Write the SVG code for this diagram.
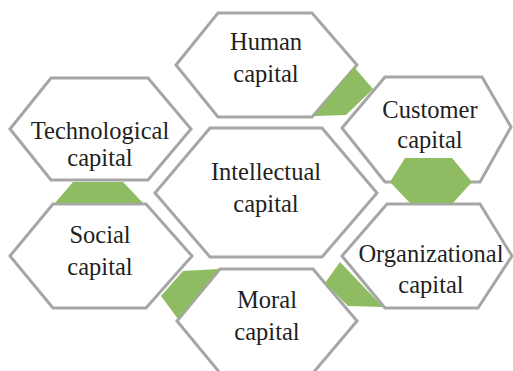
<svg xmlns="http://www.w3.org/2000/svg" width="513" height="371" viewBox="0 0 513 371">
<style>
.hex{fill:#ffffff;stroke:#a6a6a6;stroke-width:3;stroke-linejoin:miter}
.g{fill:#8fbb62;stroke:none}
text{font-family:"Liberation Serif","Times New Roman",serif;font-size:24.5px;fill:#231f20;text-anchor:middle}
</style>
<rect width="513" height="371" fill="#ffffff"/>
<g id="human"><polygon class="hex" points="176,65 218,13 312,13 357,65 312,117 218,117"/><text x="266" y="50">Human</text><text x="266" y="82">capital</text></g>
<g id="technological"><polygon class="hex" points="10,129 51,78 148,78 191,129 148,180 51,180"/><text x="100" y="139">Technological</text><text x="100" y="166">capital</text></g>
<g id="intellectual"><polygon class="hex" points="155,193 210,128 322,128 377,193 322,257 210,257"/><text x="266" y="180">Intellectual</text><text x="266" y="212">capital</text></g>
<g id="customer"><polygon class="hex" points="342,128 385,77 482,77 511,127 480,182 385,182"/><text x="430" y="118">Customer</text><text x="430" y="148">capital</text></g>
<g id="social"><polygon class="hex" points="10,256 53,204 146,204 192,256 146,308 53,308"/><text x="100" y="243">Social</text><text x="100" y="275">capital</text></g>
<g id="moral"><polygon class="hex" points="177,321 220,269 313,269 357,321 313,373 220,373"/><text x="267" y="308">Moral</text><text x="267" y="340">capital</text></g>
<g id="organizational"><polygon class="hex" points="342,256 387,204 480,204 512,256 478,308 385,308"/><text x="431" y="262">Organizational</text><text x="431" y="293">capital</text></g>
<g id="connectors">
<polygon class="g" points="354,67 373,89 346,115 314,116"/>
<polygon class="g" points="73,182 123,182 143,203 55,203"/>
<polygon class="g" points="405,158 452,158 472,182 453,203 410,203 390,182"/>
<polygon class="g" points="183,271 219,269 178,319 161,296"/>
<polygon class="g" points="340,262 383,307 348,306 325,283"/>
</g>
</svg>
